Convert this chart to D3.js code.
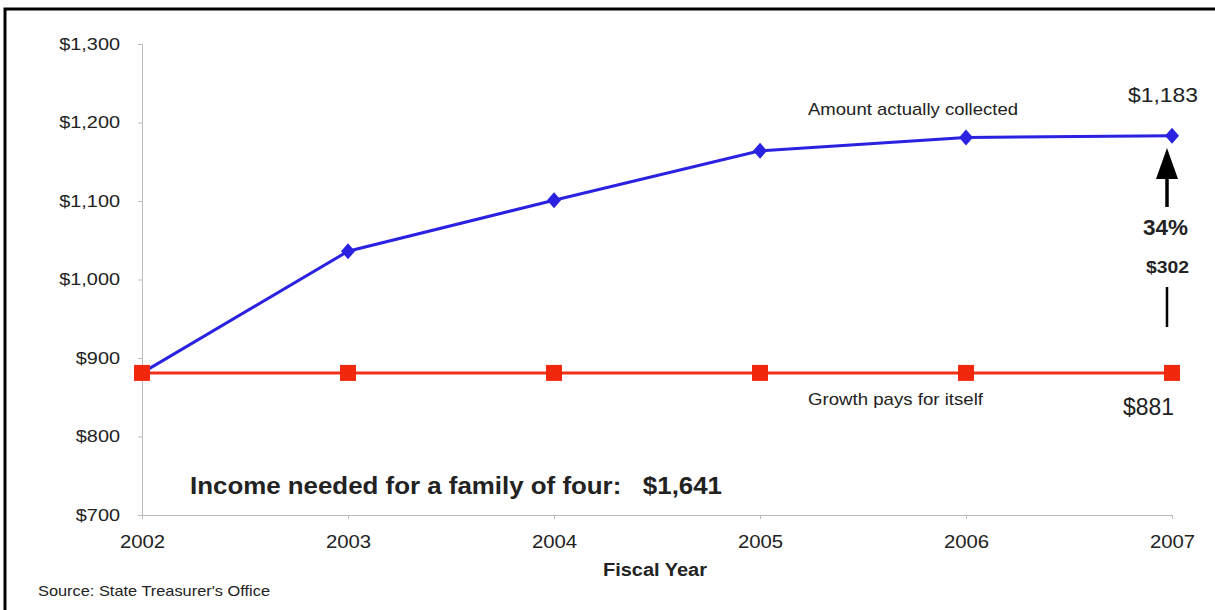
<!DOCTYPE html>
<meta charset="utf-8">
<script src="https://d3js.org/d3.v7.min.js"></script>
<style>
  body { margin: 0; background: #fff; }
  text { font-family: "Liberation Sans", Arial, sans-serif; fill: #222; }
</style>
<div id="chart"></div>
<script>
// data
var years = [2002, 2003, 2004, 2005, 2006, 2007];
var collected = [881, 1036, 1101, 1164, 1181, 1183];
var growth = [881, 881, 881, 881, 881, 881];
var yTicks = [700, 800, 900, 1000, 1100, 1200, 1300];

var W = 1215, H = 610;
var svg = d3.select("#chart").append("svg")
    .attr("width", W).attr("height", H);

// the source picture is a bit stretched sideways, so widen text to match
function stretch(sel, k) {
  sel.each(function () {
    var w = this.getComputedTextLength();
    d3.select(this).attr("textLength", w * k).attr("lengthAdjust", "spacingAndGlyphs");
  });
}

// frame
svg.append("path")
    .attr("d", "M5,610 V9 H1215")
    .attr("fill", "none").attr("stroke", "#000").attr("stroke-width", 3);

var x = d3.scaleLinear().domain([2002, 2007]).range([142, 1172]);
var y = d3.scaleLinear().domain([700, 1300]).range([515, 44]);

// axes
var gy = svg.append("g").attr("transform", "translate(142,0)")
    .call(d3.axisLeft(y).tickValues(yTicks).tickSize(4).tickPadding(18)
        .tickFormat(function (d) { return "$" + d3.format(",")(d); }));
var gx = svg.append("g").attr("transform", "translate(0,515)")
    .call(d3.axisBottom(x).tickValues(years).tickSize(4).tickPadding(16)
        .tickFormat(d3.format("d")));
svg.selectAll(".domain, .tick line").attr("stroke", "#bbb");
svg.selectAll(".tick text")
    .attr("font-family", "Liberation Sans, Arial, sans-serif").attr("fill", "#222");
gy.selectAll(".tick text").attr("font-size", 17).call(stretch, 1.17);
gx.selectAll(".tick text").attr("font-size", 19).call(stretch, 1.07);

// lines
var line = function (vals) {
  return d3.line().x(function (d, i) { return x(years[i]); })
      .y(function (d) { return y(d); })(vals);
};
svg.append("path").attr("d", line(collected))
    .attr("fill", "none").attr("stroke", "#2a22e0").attr("stroke-width", 3);
svg.append("path").attr("d", line(growth))
    .attr("fill", "none").attr("stroke", "#f0301a").attr("stroke-width", 3);

// markers
svg.append("g").selectAll("path").data(collected).enter().append("path")
    .attr("d", "M0,-8 L7,0 L0,8 L-7,0 Z")
    .attr("transform", function (d, i) { return "translate(" + x(years[i]) + "," + y(d) + ")"; })
    .attr("fill", "#2a22e0");
svg.append("g").selectAll("rect").data(growth).enter().append("rect")
    .attr("x", function (d, i) { return x(years[i]) - 8; })
    .attr("y", function (d) { return y(d) - 8; })
    .attr("width", 16).attr("height", 16).attr("fill", "#f2280c");

// labels
svg.append("text").attr("x", 808).attr("y", 115).attr("font-size", 17)
    .attr("fill", "#333").text("Amount actually collected")
    .attr("textLength", 210).attr("lengthAdjust", "spacingAndGlyphs");
svg.append("text").attr("x", 808).attr("y", 405).attr("font-size", 17)
    .attr("fill", "#333").text("Growth pays for itself")
    .attr("textLength", 175).attr("lengthAdjust", "spacingAndGlyphs");

var last = years.length - 1;
var xe = x(years[last]) - 5;
svg.append("text").attr("x", 1128).attr("y", 102).attr("font-size", 21)
    .text("$" + d3.format(",")(collected[last]))
    .attr("textLength", 70).attr("lengthAdjust", "spacingAndGlyphs");
svg.append("text").attr("x", 1123).attr("y", 415).attr("font-size", 23)
    .text("$" + growth[last])
    .attr("textLength", 51).attr("lengthAdjust", "spacingAndGlyphs");
svg.append("text").attr("x", 1143).attr("y", 235).attr("font-size", 22)
    .attr("font-weight", "bold")
    .text(d3.format(".0%")((collected[last] - growth[last]) / growth[last]))
    .attr("textLength", 45).attr("lengthAdjust", "spacingAndGlyphs");
svg.append("text").attr("x", 1146).attr("y", 273).attr("font-size", 17)
    .attr("font-weight", "bold")
    .text("$" + (collected[last] - growth[last]))
    .attr("textLength", 43).attr("lengthAdjust", "spacingAndGlyphs");

// arrow
svg.append("line").attr("x1", xe).attr("x2", xe).attr("y1", 207).attr("y2", 176)
    .attr("stroke", "#000").attr("stroke-width", 3.5);
svg.append("path")
    .attr("d", "M" + xe + ",148 L" + (xe - 11) + ",179 L" + (xe + 11) + ",179 Z")
    .attr("fill", "#000");
svg.append("line").attr("x1", xe).attr("x2", xe).attr("y1", 287).attr("y2", 327)
    .attr("stroke", "#000").attr("stroke-width", 2.5);

svg.append("text").attr("x", 190).attr("y", 494).attr("font-size", 23)
    .attr("font-weight", "bold").attr("xml:space", "preserve")
    .text("Income needed for a family of four:   $1,641")
    .attr("textLength", 532).attr("lengthAdjust", "spacingAndGlyphs");

svg.append("text").attr("x", 603).attr("y", 576).attr("font-size", 18)
    .attr("font-weight", "bold").text("Fiscal Year")
    .attr("textLength", 104).attr("lengthAdjust", "spacingAndGlyphs");
svg.append("text").attr("x", 38).attr("y", 596).attr("font-size", 15)
    .attr("fill", "#444").text("Source: State Treasurer's Office")
    .attr("textLength", 232).attr("lengthAdjust", "spacingAndGlyphs");
</script>
